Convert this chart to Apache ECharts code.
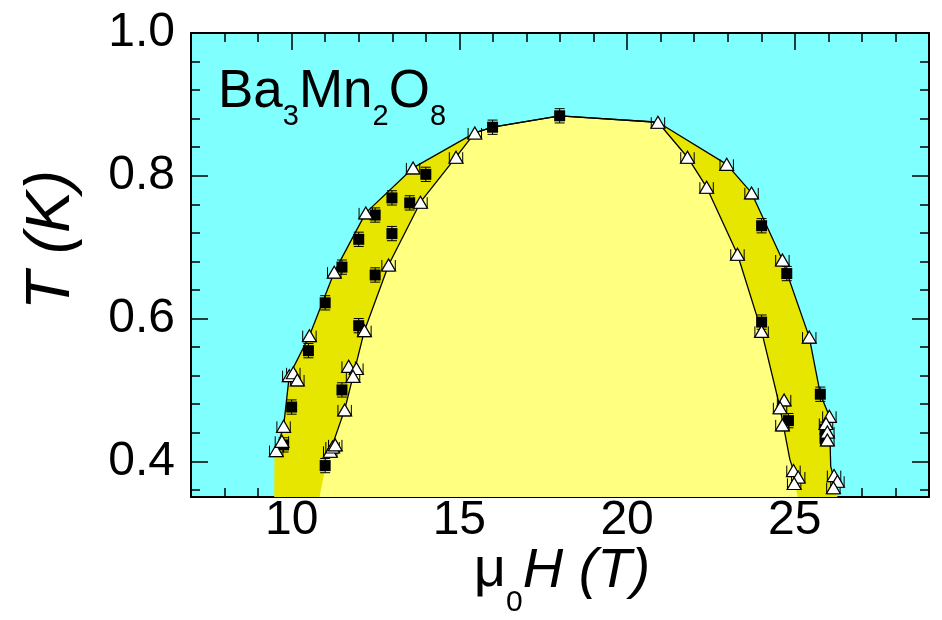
<!DOCTYPE html>
<html>
<head>
<meta charset="utf-8">
<title>Ba3Mn2O8 phase diagram</title>
<script src="https://cdn.jsdelivr.net/npm/echarts@6/dist/echarts.min.js"></script>
<style>
  html, body { margin: 0; padding: 0; background: #fff; }
  #chart { width: 942px; height: 620px; }
</style>
</head>
<body>
<div id="chart"></div>
<script>
// [field (T), temperature (K)]
var triangles = [
  [9.54, 0.415], [9.71, 0.428], [9.76, 0.449], [9.93, 0.520], [10.05, 0.524], [10.17, 0.514],
  [10.53, 0.576], [11.27, 0.665], [12.21, 0.748], [13.62, 0.811], [15.46, 0.860],
  [11.15, 0.414], [11.22, 0.420], [11.30, 0.423], [11.58, 0.472], [11.70, 0.533], [11.93, 0.530],
  [11.83, 0.519], [12.17, 0.583], [12.89, 0.675], [13.84, 0.763], [14.90, 0.826],
  [20.92, 0.875], [21.80, 0.826], [22.37, 0.784], [22.97, 0.816], [23.71, 0.776], [23.29, 0.690],
  [24.63, 0.682], [24.01, 0.582], [25.43, 0.574], [24.68, 0.486], [24.56, 0.475], [24.63, 0.451],
  [26.03, 0.463], [25.93, 0.453], [25.97, 0.441], [25.97, 0.430], [24.96, 0.387], [25.10, 0.378],
  [24.98, 0.369], [26.17, 0.380], [26.27, 0.372], [26.15, 0.363]
];
var squares = [
  [9.76, 0.423], [10.0, 0.476], [10.50, 0.555], [11.0, 0.622], [11.0, 0.394], [11.50, 0.500],
  [11.50, 0.672], [12.0, 0.590], [12.0, 0.711], [12.49, 0.661], [12.49, 0.745], [12.99, 0.719],
  [12.99, 0.769], [13.52, 0.762], [14.0, 0.802], [15.99, 0.868], [17.99, 0.884],
  [24.01, 0.730], [24.76, 0.663], [24.01, 0.595], [25.76, 0.494], [24.81, 0.457],
  [25.9, 0.445], [25.9, 0.432]
];
// phase boundaries
var outerLine = [
  [9.54, 0.415], [9.76, 0.449], [9.93, 0.520], [10.53, 0.576], [11.27, 0.665], [12.21, 0.748],
  [13.62, 0.811], [15.46, 0.860], [15.99, 0.868], [17.99, 0.884], [20.92, 0.875], [22.97, 0.816],
  [23.71, 0.776], [24.63, 0.682], [25.43, 0.574], [25.76, 0.494], [26.03, 0.463], [26.07, 0.393],
  [26.12, 0.384]
];
var innerLine = [
  [11.15, 0.414], [11.58, 0.472], [11.83, 0.519], [12.17, 0.583], [12.89, 0.675], [13.84, 0.763],
  [14.90, 0.826], [15.46, 0.860], [15.99, 0.868], [17.99, 0.884], [20.92, 0.875], [21.80, 0.826],
  [22.37, 0.784], [23.29, 0.690], [24.01, 0.582], [24.56, 0.475], [24.85, 0.403], [24.96, 0.387]
];
// where the shaded regions run down to the bottom of the plot
var outerStart = [[9.48, 0.35], [9.49, 0.415]];
var outerEnd = [[26.27, 0.35]];
var innerStart = [[10.83, 0.35], [11.0, 0.39]];
var innerEnd = [[25.08, 0.35]];

var xMajorTicks = [10, 15, 20, 25];
var xMinorTicks = [8, 9, 10, 11, 12, 13, 14, 15, 16, 17, 18, 19, 20, 21, 22, 23, 24, 25, 26, 27, 28];
var yMajorTicks = [0.4, 0.6, 0.8, 1.0];
var yMinorTicks = [0.36, 0.40, 0.44, 0.48, 0.52, 0.56, 0.60, 0.64, 0.68, 0.72, 0.76, 0.80, 0.84, 0.88, 0.92, 0.96, 1.00];

var triErr = 0.2;   // T
var sqErr = 0.01;   // K

var FONT = 'Liberation Sans, Arial, sans-serif';

function makeAxis(dim, pos, ticks, len, withLine, withLabel) {
  var ax = {
    type: 'value',
    position: pos,
    offset: 0,
    min: dim === 'x' ? 7 : 0.35,
    max: dim === 'x' ? 29 : 1.0,
    splitLine: { show: false },
    axisLine: { show: withLine, onZero: false, lineStyle: { color: '#000', width: 2 } },
    axisTick: { show: true, inside: true, length: len, customValues: ticks, lineStyle: { color: '#000', width: 1.5 } },
    axisLabel: { show: false }
  };
  if (withLabel) {
    ax.axisLabel = {
      show: true,
      customValues: ticks,
      color: '#000',
      fontSize: 48,
      fontFamily: FONT,
      margin: dim === 'x' ? 0 : 16,
      padding: dim === 'x' ? 0 : [0, 0, 8, 0],
      formatter: function (v) { return dim === 'x' ? String(v) : v.toFixed(1); }
    };
  }
  return ax;
}

var chart = echarts.init(document.getElementById('chart'));

chart.setOption({
  animation: false,
  backgroundColor: '#fff',
  grid: {
    left: 191, right: 13, top: 33, bottom: 123,
    show: true, backgroundColor: '#80FFFF', borderWidth: 0
  },
  xAxis: [
    makeAxis('x', 'bottom', xMajorTicks, 17, true, true),
    makeAxis('x', 'bottom', xMinorTicks, 9, false, false),
    makeAxis('x', 'top', xMajorTicks, 17, true, false),
    makeAxis('x', 'top', xMinorTicks, 9, false, false)
  ],
  yAxis: [
    makeAxis('y', 'left', yMajorTicks, 17, true, true),
    makeAxis('y', 'left', yMinorTicks, 9, false, false),
    makeAxis('y', 'right', yMajorTicks, 17, true, false),
    makeAxis('y', 'right', yMinorTicks, 9, false, false)
  ],
  graphic: [
    {
      type: 'text', x: 218, y: 66,
      style: {
        text: '{m|Ba}{s|3}{m|Mn}{s|2}{m|O}{s|8}',
        fill: '#000',
        rich: {
          m: { fontSize: 53, lineHeight: 53, fontFamily: FONT, verticalAlign: 'top' },
          s: { fontSize: 29, lineHeight: 29, fontFamily: FONT, verticalAlign: 'top', padding: [36, 0, 0, 0] }
        }
      }
    },
    {
      type: 'text', x: 51, y: 240, rotation: Math.PI / 2,
      style: {
        text: 'T (K)', fill: '#000',
        font: 'italic 63px ' + FONT,
        align: 'center', verticalAlign: 'middle'
      }
    },
    {
      type: 'text', x: 562, y: 543,
      style: {
        text: '{mu|μ}{sub|0}{it|H (T)}',
        fill: '#000',
        align: 'center', verticalAlign: 'top',
        rich: {
          mu: { fontSize: 56, lineHeight: 56, fontFamily: FONT, verticalAlign: 'top' },
          sub: { fontSize: 30, lineHeight: 30, fontFamily: FONT, verticalAlign: 'top', padding: [45, 0, 0, 0] },
          it: { fontSize: 56, lineHeight: 56, fontFamily: FONT, fontStyle: 'italic', verticalAlign: 'top' }
        }
      }
    }
  ],
  series: [
    {
      name: 'outer area',
      type: 'line',
      data: outerStart.concat(outerLine, outerEnd),
      showSymbol: false,
      lineStyle: { width: 0 },
      areaStyle: { color: '#E6E600', opacity: 1, origin: 'start' },
      z: 2
    },
    {
      name: 'inner area',
      type: 'line',
      data: innerStart.concat(innerLine, innerEnd),
      showSymbol: false,
      lineStyle: { width: 0 },
      areaStyle: { color: '#FFFF80', opacity: 1, origin: 'start' },
      z: 2
    },
    {
      name: 'outer',
      type: 'line',
      data: outerLine,
      showSymbol: false,
      lineStyle: { color: '#000', width: 1.3 },
      z: 3
    },
    {
      name: 'inner',
      type: 'line',
      data: innerLine,
      showSymbol: false,
      lineStyle: { color: '#000', width: 1.3 },
      z: 3
    },
    {
      name: 'triangle err',
      type: 'custom',
      z: 4,
      data: triangles,
      renderItem: function (params, api) {
        var x = api.value(0), y = api.value(1);
        var a = api.coord([x - triErr, y]);
        var b = api.coord([x + triErr, y]);
        var yb = a[1] + 6;
        var st = { stroke: '#000', lineWidth: 1 };
        return {
          type: 'group',
          children: [
            { type: 'line', shape: { x1: a[0], y1: yb, x2: b[0], y2: yb }, style: st },
            { type: 'line', shape: { x1: a[0], y1: yb - 11, x2: a[0], y2: yb }, style: st },
            { type: 'line', shape: { x1: b[0], y1: yb - 11, x2: b[0], y2: yb }, style: st }
          ]
        };
      }
    },
    {
      name: 'square err',
      type: 'custom',
      z: 4,
      data: squares,
      renderItem: function (params, api) {
        var x = api.value(0), y = api.value(1);
        var t = api.coord([x, y + sqErr]);
        var d = api.coord([x, y - sqErr]);
        var st = { stroke: '#000', lineWidth: 1 };
        return {
          type: 'group',
          children: [
            { type: 'line', shape: { x1: t[0], y1: t[1], x2: d[0], y2: d[1] }, style: st },
            { type: 'line', shape: { x1: t[0] - 5, y1: t[1], x2: t[0] + 5, y2: t[1] }, style: st },
            { type: 'line', shape: { x1: d[0] - 5, y1: d[1], x2: d[0] + 5, y2: d[1] }, style: st }
          ]
        };
      }
    },
    {
      name: 'squares',
      type: 'scatter',
      data: squares,
      symbol: 'rect',
      symbolSize: 11,
      itemStyle: { color: '#000', opacity: 1 },
      z: 5
    },
    {
      name: 'triangles',
      type: 'scatter',
      data: triangles,
      symbol: 'triangle',
      symbolSize: [14, 12],
      itemStyle: { color: '#fff', borderColor: '#000', borderWidth: 1.2, opacity: 1 },
      z: 6
    }
  ]
});
</script>
</body>
</html>
